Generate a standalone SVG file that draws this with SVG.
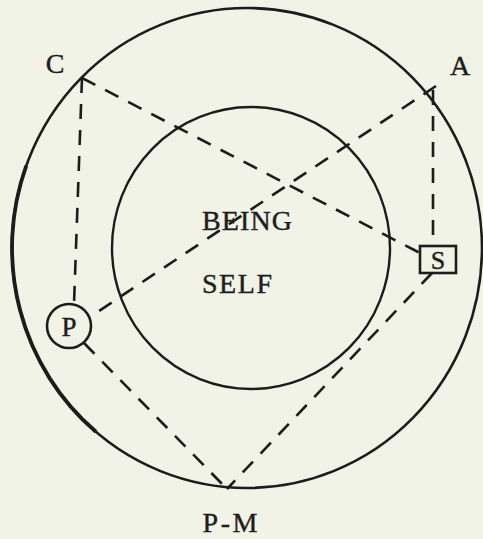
<svg xmlns="http://www.w3.org/2000/svg" width="483" height="539" viewBox="0 0 483 539">
<style>
.ring{fill:none;stroke:#1c1c1a;}
.dash{fill:none;stroke:#1c1c1a;stroke-width:2.6;stroke-dasharray:15 11;stroke-linecap:butt;}
.lbl{font-family:"Liberation Serif","Times New Roman",serif;font-size:28px;fill:#1e1e1c;stroke:#1e1e1c;stroke-width:0.4;text-anchor:middle;}
.node{fill:#f1f3e7;stroke:#1c1c1a;stroke-width:2.6;}
</style>
<rect width="483" height="539" fill="#f1f3e7"/>
<g id="outer-circle">
<ellipse class="ring" cx="247" cy="248" rx="235" ry="240" stroke-width="2.6"/>
<path class="ring" d="M 26.2 165.9 A 235 240 0 0 0 95.9 431.8" stroke-width="3.8"/>
</g>
<g id="being-self">
<ellipse class="ring" cx="251" cy="248" rx="139" ry="141" stroke-width="2.4"/>
<text class="lbl" x="247" y="230" textLength="90" lengthAdjust="spacing">BEING</text>
<text class="lbl" x="237" y="293" textLength="70" lengthAdjust="spacing">SELF</text>
</g>
<g id="connectors">
<line class="dash" x1="82" y1="78" x2="420" y2="253"/>
<line class="dash" x1="436" y1="86" x2="90" y2="317"/>
<line class="dash" x1="82" y1="78" x2="74" y2="304"/>
<line class="dash" x1="433" y1="90" x2="433" y2="246"/>
<line class="dash" x1="84" y1="343" x2="227" y2="489"/>
<line class="dash" x1="432" y1="273" x2="227" y2="489"/>
</g>
<g id="node-C"><text class="lbl" x="55" y="73">C</text></g>
<g id="node-A"><text class="lbl" x="460" y="75">A</text></g>
<g id="node-S">
<rect class="node" x="420" y="246" width="36" height="27"/>
<text class="lbl" x="438" y="269" style="font-size:26px">S</text>
</g>
<g id="node-P">
<circle class="node" cx="69" cy="326" r="22"/>
<text class="lbl" x="69" y="336" style="font-size:27px">P</text>
</g>
<g id="node-PM"><text class="lbl" x="230" y="532" textLength="55" lengthAdjust="spacing">P-M</text></g>
</svg>
